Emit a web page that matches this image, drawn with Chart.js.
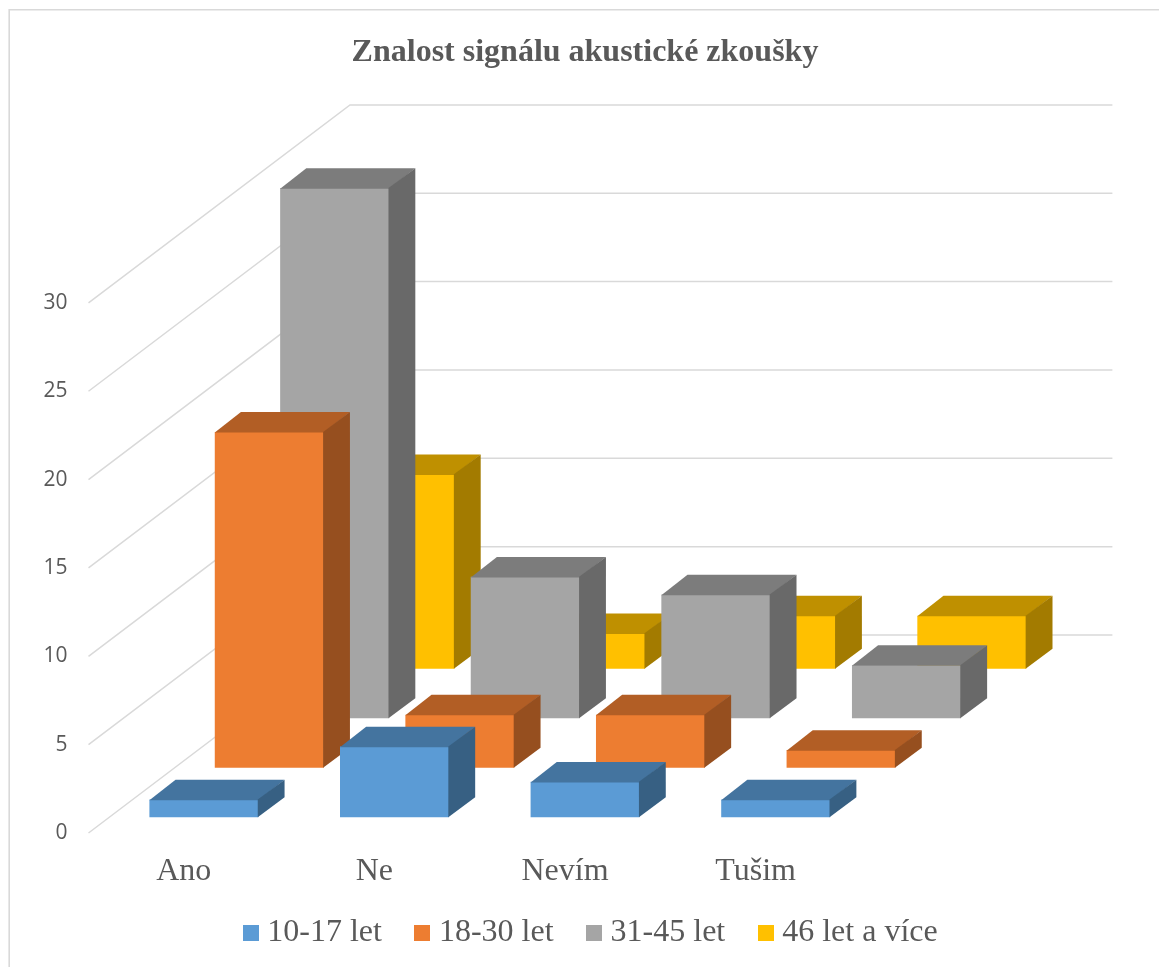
<!DOCTYPE html>
<html>
<head>
<meta charset="utf-8">
<style>html,body{margin:0;padding:0;background:#fff}#w{position:relative;width:1159px;height:967px}</style>
<script src="https://cdn.jsdelivr.net/npm/chart.js@4"></script>
</head>
<body>
<div id="w"><canvas id="c" width="1159" height="967"></canvas></div>
<script>
const categories = ['Ano', 'Ne', 'Nevím', 'Tušim'];
const seriesNames = ['10-17 let', '18-30 let', '31-45 let', '46 let a více'];
const values1017 = [1, 4, 2, 1];
const values1830 = [19, 3, 3, 1];
const values3145 = [30, 8, 7, 3];
const values46 = [11, 2, 3, 3];
const frontColors = ['#5B9BD5', '#ED7D31', '#A5A5A5', '#FFC000'];
const topColors = ['#44749F', '#B25E25', '#7C7C7C', '#BF9000'];
const sideColors = ['#376083', '#964F1F', '#696969', '#A37B00'];
const titleText = 'Znalost signálu akustické zkoušky';

const SERIF = '"Liberation Serif", "Times New Roman", serif';
const TEXT = '#595959';
const GRID = '#D9D9D9';
const WALL = {dx: 261.5, dy: -198};   // perspective vector of the whole floor depth
const ROWS = 4, ROW_START = 0.3, ROW_DEPTH = 0.4;
const BAR_NUDGE = {x: 0.5, y: -1};
const LEGEND_SHIFT = 9;

function swatch(color) {
  const s = document.createElement('canvas');
  s.width = 16; s.height = 16;
  const g = s.getContext('2d');
  g.fillStyle = color; g.fillRect(0, 0, 16, 16);
  return s;
}

const depth3d = {
  id: 'depth3d',
  afterLayout(chart) {
    chart.legend.left += LEGEND_SHIFT;
    chart.legend.right += LEGEND_SHIFT;
    chart.scales.x.bottom += 30;   // room for the category labels, which overlap the legend's padding
  },
  beforeDraw(chart) {
    const {ctx, width, height} = chart;
    ctx.save();
    ctx.strokeStyle = GRID; ctx.lineWidth = 1.6;
    ctx.beginPath();
    ctx.moveTo(9.2, height); ctx.lineTo(9.2, 9.8); ctx.lineTo(width, 9.8);
    ctx.stroke();
    ctx.restore();
  },
  beforeDatasetsDraw(chart) {
    const {ctx, chartArea} = chart, y = chart.scales.y;
    ctx.save();
    ctx.strokeStyle = GRID; ctx.lineWidth = 1.5;
    y.ticks.forEach(t => {
      const py = y.getPixelForValue(t.value);
      ctx.beginPath();
      ctx.moveTo(chartArea.left, py);
      ctx.lineTo(chartArea.left + WALL.dx, py + WALL.dy);
      ctx.lineTo(chartArea.right + WALL.dx, py + WALL.dy);
      ctx.stroke();
    });
    ctx.restore();
  },
  beforeDatasetDraw(chart, args) {
    const f = (args.index + ROW_START) / ROWS;
    chart.ctx.save();
    chart.ctx.translate(WALL.dx * f + BAR_NUDGE.x, WALL.dy * f + BAR_NUDGE.y);
  },
  afterDatasetDraw(chart, args) {
    const ctx = chart.ctx, i = args.index;
    const tx = WALL.dx * ROW_DEPTH / ROWS, ty = WALL.dy * ROW_DEPTH / ROWS;
    const seam = 0.7;
    args.meta.data.forEach(el => {
      const {x, y, base, width} = el.getProps(['x', 'y', 'base', 'width'], true);
      const l = x - width / 2, r = x + width / 2;
      ctx.fillStyle = topColors[i];
      ctx.beginPath();
      ctx.moveTo(l, y + seam); ctx.lineTo(l + tx, y + ty); ctx.lineTo(r + tx, y + ty); ctx.lineTo(r, y + seam);
      ctx.closePath(); ctx.fill();
      ctx.fillStyle = sideColors[i];
      ctx.beginPath();
      ctx.moveTo(r - seam, y); ctx.lineTo(r + tx, y + ty); ctx.lineTo(r + tx, base + ty); ctx.lineTo(r - seam, base);
      ctx.closePath(); ctx.fill();
    });
    ctx.restore();
  }
};

const allValues = [values1017, values1830, values3145, values46];

new Chart(document.getElementById('c'), {
  type: 'bar',
  data: {
    labels: categories,
    datasets: seriesNames.map((name, i) => ({
      label: name,
      data: allValues[i],
      backgroundColor: frontColors[i],
      borderWidth: 0,
      pointStyle: swatch(frontColors[i]),
      clip: false
    }))
  },
  plugins: [depth3d],
  options: {
    responsive: false,
    animation: false,
    layout: {padding: {left: 11, right: 0, top: 0, bottom: 8}},
    datasets: {bar: {grouped: false, barPercentage: 0.572, categoryPercentage: 1}},
    plugins: {
      tooltip: {enabled: false},
      title: {
        display: true,
        text: titleText,
        color: TEXT,
        font: {family: SERIF, size: 32, weight: 'bold'},
        padding: {top: 34, bottom: 230.5}
      },
      legend: {
        position: 'bottom',
        labels: {
          color: TEXT,
          font: {family: SERIF, size: 32},
          usePointStyle: true,
          boxWidth: 1,
          boxHeight: 16,
          padding: 40
        }
      }
    },
    scales: {
      x: {
        grid: {display: false},
        border: {display: false},
        afterFit(s) { s.width = 762.4; s.height = 44; },
        ticks: {color: TEXT, font: {family: SERIF, size: 32}, padding: 11.5, maxRotation: 0}
      },
      y: {
        min: 0, max: 30,
        grid: {display: false},
        border: {display: false},
        afterFit(s) { s.width = 77.5; },
        ticks: {
          stepSize: 5,
          color: TEXT,
          font: {family: '"Open Sans"', size: 21},
          padding: 13
        }
      },
      pad: {
        axis: 'y', position: 'right', display: true,
        grid: {display: false}, border: {display: false},
        ticks: {display: false},
        afterFit(s) { s.width = 308.1; }
      }
    }
  }
});
</script>
</body>
</html>
